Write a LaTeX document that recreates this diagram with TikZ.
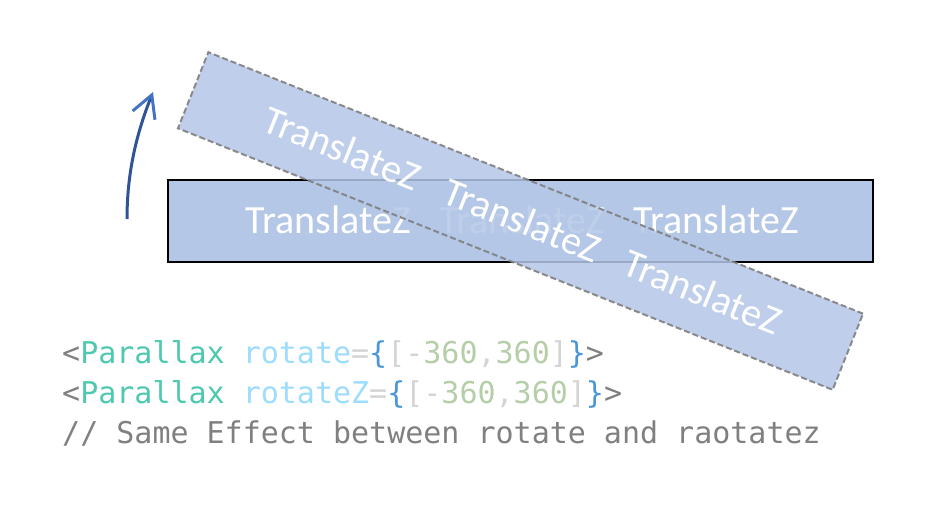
\documentclass[tikz,border=0pt]{standalone}
\usepackage{fontspec}
\setmainfont{Carlito}
\newfontfamily\codefont{DejaVu Sans Mono}
\usetikzlibrary{arrows.meta}
\definecolor{boxblue}{HTML}{B4C7E7}
\definecolor{arrblue}{HTML}{2F5597}
\definecolor{tipblue}{HTML}{4472C4}
\definecolor{cgray}{HTML}{808080}
\definecolor{cteal}{HTML}{4EC9B0}
\definecolor{cattr}{HTML}{9CDCFE}
\definecolor{clight}{HTML}{D4D4D4}
\definecolor{cbrace}{HTML}{4A96D8}
\definecolor{cnum}{HTML}{B5CEA8}
\definecolor{dashgray}{HTML}{7F7F7F}
\tikzset{
  flatbox/.style={draw=black, line width=2.2pt, fill=boxblue, minimum width=705pt, minimum height=82pt, inner sep=0pt},
  tiltbox/.style={draw=dashgray, dash pattern=on 6pt off 3pt, line width=2pt, fill=boxblue, fill opacity=0.85, draw opacity=0.9, minimum width=705pt, minimum height=82pt, inner sep=0pt},
  tz/.style={text=white, font=\fontsize{40}{48}\selectfont, inner sep=0pt, anchor=base},
  codeline/.style={font=\codefont\fontsize{30}{36}\selectfont, inner sep=0pt, anchor=base west},
}
\begin{document}
\begin{tikzpicture}[x=1pt,y=-1pt]
\useasboundingbox (0,0) rectangle (929,509);
% flat box
\node[flatbox] (flat) at (520.5,221) {};
\node[tz] (t1) at (328,233) {TranslateZ};
\node[tz] (t2) at (522,233) {TranslateZ};
\node[tz] (t3) at (716,233) {TranslateZ};
% tilted box
\begin{scope}[rotate around={-21.77:(520.5,221)}]
\node[tiltbox, rotate=-21.77] (tilt) at (520.5,221) {};
\node[tz, rotate=-21.77] (r1) at (328,233) {TranslateZ};
\node[tz, rotate=-21.77] (r2) at (522,233) {TranslateZ};
\node[tz, rotate=-21.77] (r3) at (716,233) {TranslateZ};
\end{scope}
% arrow
\coordinate (arrS) at (127,219);
\coordinate (arrE) at (153,92);
\draw[arrblue, line width=3pt, -{Straight Barb[color=tipblue, length=22pt, width=24pt, line width=3pt]}]
  (arrS) .. controls (127,165) and (140,125) .. (arrE);
% code
\node[codeline] (c1) at (62,363) {\textcolor{cgray}{<}\textcolor{cteal}{Parallax} \textcolor{cattr}{rotate}\textcolor{clight}{=}\textcolor{cbrace}{\{}\textcolor{clight}{[-}\textcolor{cnum}{360}\textcolor{clight}{,}\textcolor{cnum}{360}\textcolor{clight}{]}\textcolor{cbrace}{\}}\textcolor{cgray}{>}};
\node[codeline] (c2) at (62,403) {\textcolor{cgray}{<}\textcolor{cteal}{Parallax} \textcolor{cattr}{rotateZ}\textcolor{clight}{=}\textcolor{cbrace}{\{}\textcolor{clight}{[-}\textcolor{cnum}{360}\textcolor{clight}{,}\textcolor{cnum}{360}\textcolor{clight}{]}\textcolor{cbrace}{\}}\textcolor{cgray}{>}};
\node[codeline] (c3) at (62,443) {\textcolor{cgray}{// Same Effect between rotate and raotatez}};
\end{tikzpicture}
\end{document}
